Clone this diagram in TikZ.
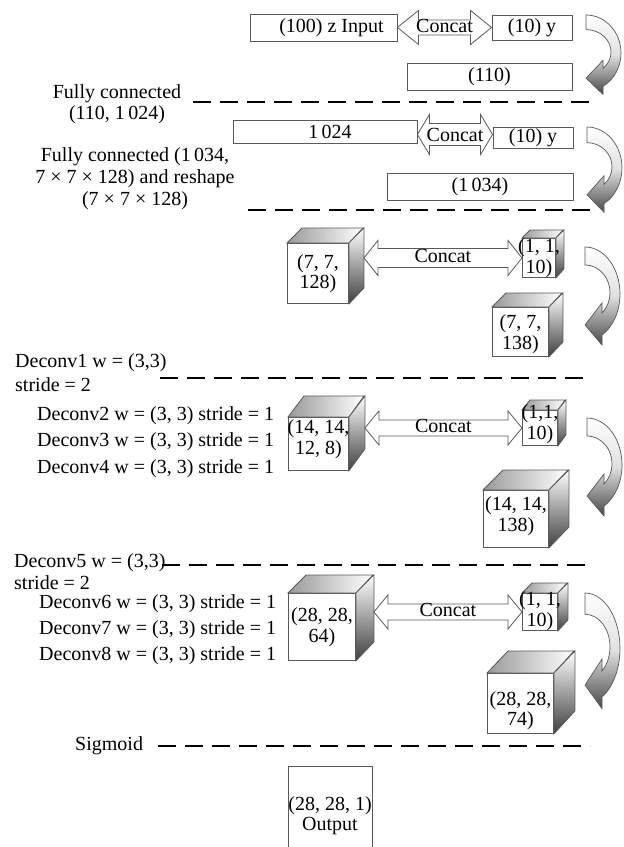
\documentclass[tikz,border=0pt]{standalone}
\usepackage{fontspec}
\setmainfont{Liberation Serif}
\usetikzlibrary{calc}

\definecolor{edgegray}{HTML}{5A5A5A}

\tikzset{
  lbl/.style={font=\fontsize{20}{20.5}\selectfont, inner sep=0pt},
  box/.style={draw=edgegray, line width=0.9pt, fill=white, inner sep=0pt,
              font=\fontsize{20}{20.5}\selectfont},
  sepline/.style={line width=2.6pt, dash pattern=on 18pt off 9pt},
  concatarrow/.style={draw=edgegray, line width=0.8pt, fill=white, line join=miter},
  bendshape/.style={draw=edgegray, line width=0.7pt,
                    top color=white, bottom color=black!72, middle color=black!12},
  cubetop/.style={draw=edgegray, line width=0.8pt, left color=black!40, right color=white},
  cubeside/.style={draw=edgegray, line width=0.8pt, top color=white, bottom color=black!75},
}

% double-headed "Concat" arrow between two points (y taken from the right point)
% #3 head length, #4 head half-width, #5 shaft half-width
\newcommand{\catarrow}[5]{%
  \draw[concatarrow] let \p1=#1, \p2=#2 in
    (\x1,\y2) -- (\x1+#3pt,\y2+#4pt) -- (\x1+#3pt,\y2+#5pt) -- (\x2-#3pt,\y2+#5pt)
    -- (\x2-#3pt,\y2+#4pt) -- (\x2,\y2) -- (\x2-#3pt,\y2-#4pt) -- (\x2-#3pt,\y2-#5pt)
    -- (\x1+#3pt,\y2-#5pt) -- (\x1+#3pt,\y2-#4pt) -- cycle;}

% shaded cube: name, x, y (front top-left), width, height, dx, dy, text offset, text
\newcommand{\cubebox}[9]{%
  \node[box, anchor=north west, minimum width=#4, minimum height=#5] (#1) at (#2,#3) {};
  \path[cubetop] (#1.north west) -- ++(#6,-#7) -- ++(#4,0) -- (#1.north east) -- cycle;
  \path[cubeside] (#1.north east) -- ++(#6,-#7) -- ++(0,#5) -- (#1.south east) -- cycle;
  \coordinate (#1-back) at ($(#1.east)+(#6,0)$);
  \node[lbl, align=center] (#1-txt) at ($(#1.center)+(0,#8)$) {#9};
}

% curved arrow bending round to the left: x, y of its upper end, vertical scale
\newcommand{\bendarrow}[3]{%
  \begin{scope}[shift={(#1,#2)}, yscale=#3]
    \path[bendshape] (0,0) arc[start angle=-90, end angle=60.9, x radius=35, y radius=47]
      -- (17,98) -- (0,78) -- (17,56) -- (17,66)
      arc[start angle=47.2, end angle=-90, x radius=25, y radius=27.7] -- cycle;
  \end{scope}}

\begin{document}
\begin{tikzpicture}[x=1pt, y=-1pt]
\useasboundingbox (0,0) rectangle (624,847);

% ---- input vector and label ----
\node[box, minimum width=147, minimum height=27] (zin) at (323.5,27.5) {\hspace*{16pt}(100) z Input};
\node[box, minimum width=80, minimum height=25] (y1) at (532,27.5) {(10) y};
\catarrow{(zin.east)}{(y1.west)}{21}{17}{7.5}
\node[lbl, yshift=1.5pt] (cat1) at ($(zin.east)!0.5!(y1.west)$) {Concat};
\bendarrow{586}{15}{0.81}
\node[box, minimum width=165, minimum height=27] (s110) at (489.5,76.5) {(110)};

\node[lbl, anchor=base] (fc1a) at (117,98) {Fully connected};
\node[lbl, anchor=base] (fc1b) at (117,119) {(110, 1\,024)};
\draw[sepline] (193,102) -- (590,102);

% ---- fully connected 1024 ----
\node[box, minimum width=184, minimum height=23] (fc1) at (325,131.5) {\hspace*{10pt}1\,024};
\node[box, minimum width=80, minimum height=21] (y2) at (533,137.5) {(10) y};
\coordinate (t2) at ($(y2.west)+(0,-3)$);
\catarrow{(fc1.east)}{(t2)}{12}{20}{11}
\node[lbl] (cat2) at ($(fc1.east |- t2)!0.5!(t2)$) {Concat};
\bendarrow{587}{127}{0.87}
\node[box, minimum width=186, minimum height=27] (s1034) at (480,186.5) {(1\,034)};

\node[lbl, anchor=base] (fc2a) at (135,161) {Fully connected (1\,034,};
\node[lbl, anchor=base] (fc2b) at (135,183) {7 × 7 × 128) and reshape};
\node[lbl, anchor=base] (fc2c) at (135,205) {(7 × 7 × 128)};
\draw[sepline] (248,210) -- (590,210);

% ---- 7 x 7 stage ----
\cubebox{c1}{287}{243}{61}{60}{15}{15}{0}{(7, 7,\\128)}
\cubebox{c2}{522}{238}{33}{39}{8}{8}{0}{(1, 1,\\10)}
\catarrow{(c1-back |- c2.west)}{(c2.west)}{14}{17.5}{9.5}
\node[lbl, yshift=1.5pt] (cat3) at ($(c1-back |- c2.west)!0.5!(c2.west)$) {Concat};
\bendarrow{585}{247}{1}
\cubebox{c3}{492}{307}{56}{49}{14}{14}{2}{(7, 7,\\138)}

\node[lbl, anchor=base west] (d1a) at (15,367) {Deconv1 w = (3,3)};
\node[lbl, anchor=base west] (d1b) at (15,391) {stride = 2};
\draw[sepline] (160,378) -- (590,378);

% ---- 14 x 14 stage ----
\node[lbl, anchor=base west] (d2) at (37,420) {Deconv2 w = (3, 3) stride = 1};
\node[lbl, anchor=base west] (d3) at (37,446) {Deconv3 w = (3, 3) stride = 1};
\node[lbl, anchor=base west] (d4) at (37,473) {Deconv4 w = (3, 3) stride = 1};
\cubebox{c4}{288}{417}{60}{53}{16}{21}{-5}{(14, 14,\\12, 8)}
\cubebox{c5}{522}{410}{35}{35}{8}{10}{-4}{(1,1,\\10)}
\catarrow{(c4-back |- c5.west)}{(c5.west)}{14}{17}{8}
\node[lbl, yshift=1.5pt] (cat4) at ($(c4-back |- c5.west)!0.5!(c5.west)$) {Concat};
\bendarrow{587}{418}{1}
\cubebox{c6}{483}{490}{65}{57}{20}{20}{-3}{(14, 14,\\138)}

\node[lbl, anchor=base west] (d5a) at (14,567) {Deconv5 w = (3,3)};
\node[lbl, anchor=base west] (d5b) at (14,589) {stride = 2};
\draw[sepline] (162,565) -- (590,565);

% ---- 28 x 28 stage ----
\node[lbl, anchor=base west] (d6) at (39,608) {Deconv6 w = (3, 3) stride = 1};
\node[lbl, anchor=base west] (d7) at (39,634) {Deconv7 w = (3, 3) stride = 1};
\node[lbl, anchor=base west] (d8) at (39,660) {Deconv8 w = (3, 3) stride = 1};
\cubebox{c7}{288}{593}{67}{67}{18}{18}{0}{(28, 28,\\64)}
\cubebox{c8}{522}{593}{35}{37}{10}{10}{-1}{(1, 1,\\10)}
\catarrow{(c7-back |- c8.west)}{(c8.west)}{14}{17}{8}
\node[lbl, yshift=1.5pt] (cat5) at ($(c7-back |- c8.west)!0.5!(c8.west)$) {Concat};
\bendarrow{585}{593}{1.18}
\cubebox{c9}{487}{673}{66}{60}{21}{22}{7}{(28, 28,\\74)}

\node[lbl, anchor=base west] (sig) at (75,750) {Sigmoid};
\draw[sepline] (158,746) -- (590,746);

% ---- output ----
\node[box, anchor=north, minimum width=84, minimum height=98, align=center] (out) at (330,766) {(28, 28, 1)\\Output};
\end{tikzpicture}
\end{document}
